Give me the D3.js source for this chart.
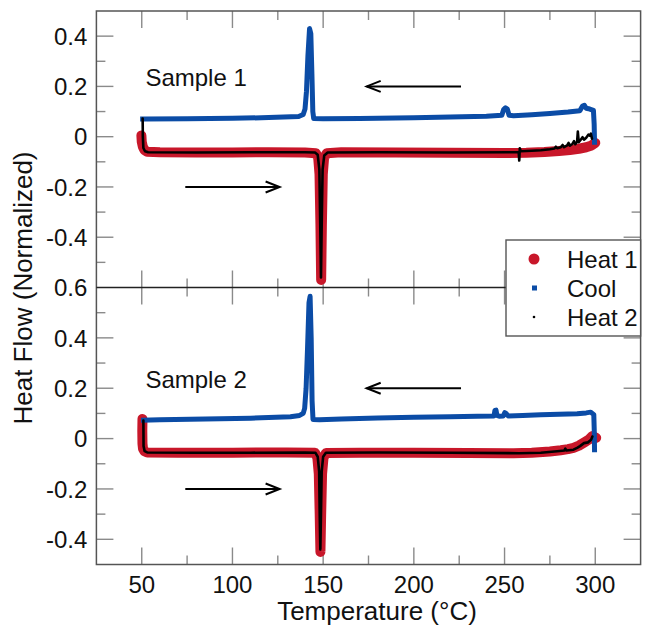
<!DOCTYPE html>
<meta charset="utf-8">
<head>
<script src="https://cdn.jsdelivr.net/npm/d3@7"></script>
<style>
    body { margin: 0; background: #fff; }
    text { font-family: "Liberation Sans", Arial, sans-serif; fill: #111; }
</style>
<title>DSC</title>
</head>
<body>
<script>

// ---- data (temperature in degC, normalized heat flow) ----
var s1Heat1 = [[49.8,0.005],[50.0,-0.02],[50.6,-0.04],[51.5,-0.053],[53,-0.06],[60,-0.062],[80,-0.063],[100,-0.063],
    [120,-0.062],[140,-0.063],[146,-0.066],[147.3,-0.085],[148.0,-0.15],[148.5,-0.35],[148.9,-0.57],[149.3,-0.35],
    [149.8,-0.15],[150.5,-0.085],[152,-0.066],[160,-0.062],[190,-0.063],[220,-0.064],[250,-0.065],[262,-0.064],
    [272,-0.061],[280,-0.057],[286,-0.053],[291,-0.048],[295,-0.042],[298,-0.035],[300,-0.025]];
var s1Cool = [[299.6,-0.022],[299.4,0.05],[299.0,0.105],[297,0.11],[295,0.113],[294,0.125],[293,0.122],[291.5,0.103],
    [285,0.098],[275,0.092],[265,0.087],[255,0.083],[252.5,0.085],[251.5,0.11],[250.5,0.115],[249.5,0.108],
    [248.5,0.085],[240,0.081],[220,0.078],[200,0.075],[170,0.072],[150,0.071],[144.8,0.072],[144.3,0.1],
    [143.8,0.25],[143.2,0.41],[142.5,0.43],[141.6,0.32],[140.8,0.18],[140.0,0.11],[139,0.088],[136.5,0.08],
    [120,0.076],[100,0.073],[75,0.071],[52,0.07],[50.5,0.07]];
var s1Heat2 = [[50.5,0.072],[50.6,0.0],[50.9,-0.045],[51.8,-0.058],[53.5,-0.062],[80,-0.063],[110,-0.062],[140,-0.062],
    [145.5,-0.063],[147,-0.072],[147.9,-0.13],[148.4,-0.35],[148.8,-0.56],[149.2,-0.35],[149.7,-0.13],[150.6,-0.075],
    [152.5,-0.063],[180,-0.062],[220,-0.063],[257.8,-0.062],[258.1,-0.095],[258.4,-0.046],[258.9,-0.058],[265,-0.056],
    [270,-0.054],[275,-0.05],[277.5,-0.047],[278.3,-0.04],[279,-0.046],[281,-0.042],[282,-0.033],[282.8,-0.042],
    [284.5,-0.035],[285.3,-0.025],[286,-0.036],[287.5,-0.028],[288.3,-0.018],[289,-0.03],[290,-0.02],[290.4,0.02],
    [290.9,-0.022],[292,-0.012],[293,-0.002],[293.8,-0.012],[295,-0.004],[296.2,0.008],[297,0.004],[297.6,0.012],
    [298.2,-0.008]];

var s2Heat1 = [[50.4,0.078],[50.3,0.03],[50.4,-0.02],[50.7,-0.04],[51.5,-0.05],[53,-0.055],[70,-0.056],[100,-0.056],
    [130,-0.055],[145.5,-0.056],[146.8,-0.075],[147.6,-0.14],[148.1,-0.3],[148.5,-0.45],[148.9,-0.3],[149.4,-0.14],
    [150.2,-0.075],[151.6,-0.057],[170,-0.056],[200,-0.056],[230,-0.057],[255,-0.058],[265,-0.056],[275,-0.051],
    [281,-0.046],[285,-0.042],[288,-0.037],[291,-0.028],[294,-0.015],[296.5,-0.004],[298.4,0.01],[300.5,0.003]];
var s2Cool = [[299.6,-0.044],[299.5,0.02],[299.2,0.095],[297.5,0.105],[295,0.102],[290,0.099],[280,0.097],[270,0.095],
    [260,0.092],[252,0.09],[250.8,0.1],[250.1,0.103],[249.3,0.09],[247,0.089],[245.8,0.092],[245.3,0.113],
    [244.7,0.112],[244.2,0.09],[235,0.089],[220,0.087],[200,0.085],[180,0.082],[160,0.078],[148,0.075],
    [144.4,0.076],[143.9,0.15],[143.4,0.4],[142.8,0.565],[142.2,0.54],[141.4,0.36],[140.6,0.2],[139.8,0.12],
    [139,0.1],[137,0.092],[132,0.087],[110,0.081],[85,0.078],[60,0.075],[51,0.073]];
var s2Heat2 = [[50.9,0.072],[51.0,-0.03],[51.6,-0.05],[53,-0.055],[80,-0.056],[110,-0.056],[140,-0.055],[145.7,-0.056],
    [147,-0.072],[147.8,-0.13],[148.1,-0.3],[148.45,-0.44],[148.8,-0.3],[149.2,-0.13],[150,-0.072],[151.5,-0.056],
    [180,-0.055],[220,-0.056],[258,-0.058],[270,-0.056],[279,-0.05],[283,-0.047],[283.5,-0.04],[284,-0.047],
    [288,-0.044],[290,-0.037],[291.6,-0.03],[293.8,-0.018],[296,-0.015],[297.7,-0.005],[298.4,0.008]];

var xMajor = [50, 100, 150, 200, 250, 300];
var xMinor = [75, 125, 175, 225, 275];
var yMajor = [-0.4, -0.2, 0, 0.2, 0.4];
var yLabels = ["-0.4", "-0.2", "0", "0.2", "0.4"];
var y1Minor = [-0.5, -0.3, -0.1, 0.1, 0.3];
var y2Minor = [-0.3, -0.1, 0.1, 0.3, 0.5];
var sampleNames = ["Sample 1", "Sample 2"];
var legendNames = ["Heat 1", "Cool", "Heat 2"];
// arrows: [from T, to T, heat flow]
var arrows = [[226, 174, 0.2], [74, 126, -0.2]];

// ---- layout ----
var width = 662, height = 627;
var plotL = 96.4, plotR = 640.6, plotT = 11, plotM = 287.5, plotB = 564.5;
var red = "#c8172a", blue = "#0b4ca6";

var svg = d3.select("body").append("svg")
    .attr("width", width)
    .attr("height", height);

var x = d3.scaleLinear().domain([25, 325]).range([plotL, plotR]);
var y1 = d3.scaleLinear().domain([-0.6, 0.5]).range([plotM, plotT]);
var y2 = d3.scaleLinear().domain([-0.5, 0.6]).range([plotB, plotM]);

var panels = [
    {y: y1, minor: y1Minor, heat1: s1Heat1, cool: s1Cool, heat2: s1Heat2, name: sampleNames[0]},
    {y: y2, minor: y2Minor, heat1: s2Heat1, cool: s2Cool, heat2: s2Heat2, name: sampleNames[1]}
];

var tickColor = "#8a8a8a";

panels.forEach(function (p) {
    var g = svg.append("g");
    var r = p.y.range(); // [bottom, top]

    // x ticks, top and bottom of each panel, pointing in
    [[xMajor, 17], [xMinor, 9]].forEach(function (set) {
        set[0].forEach(function (t) {
            g.append("line").attr("x1", x(t)).attr("x2", x(t))
                .attr("y1", r[1]).attr("y2", r[1] + set[1])
                .attr("stroke", tickColor).attr("stroke-width", 1.4);
            g.append("line").attr("x1", x(t)).attr("x2", x(t))
                .attr("y1", r[0]).attr("y2", r[0] - set[1])
                .attr("stroke", tickColor).attr("stroke-width", 1.4);
        });
    });
    // y ticks, both sides
    [[yMajor, 17], [p.minor, 9]].forEach(function (set) {
        set[0].forEach(function (v) {
            g.append("line").attr("x1", plotL).attr("x2", plotL + set[1])
                .attr("y1", p.y(v)).attr("y2", p.y(v))
                .attr("stroke", tickColor).attr("stroke-width", 1.4);
            g.append("line").attr("x1", plotR).attr("x2", plotR - set[1])
                .attr("y1", p.y(v)).attr("y2", p.y(v))
                .attr("stroke", tickColor).attr("stroke-width", 1.4);
        });
    });

    // y labels
    g.selectAll(".ylab").data(yMajor).enter().append("text")
        .attr("x", plotL - 9)
        .attr("y", function (d) { return p.y(d); })
        .attr("dy", "0.36em")
        .attr("text-anchor", "end")
        .attr("font-size", "24px")
        .text(function (d, i) { return yLabels[i]; });

    var line = d3.line().x(function (d) { return x(d[0]); }).y(function (d) { return p.y(d[1]); });

    g.append("path").attr("d", line(p.heat1))
        .attr("fill", "none").attr("stroke", red).attr("stroke-width", 10)
        .attr("stroke-linejoin", "round").attr("stroke-linecap", "round");
    g.append("path").attr("d", line(p.cool))
        .attr("fill", "none").attr("stroke", blue).attr("stroke-width", 5)
        .attr("stroke-linejoin", "round").attr("stroke-linecap", "square");
    g.append("path").attr("d", line(p.heat2))
        .attr("fill", "none").attr("stroke", "#000").attr("stroke-width", 2.6)
        .attr("stroke-linejoin", "round").attr("stroke-linecap", "round");

    g.append("text")
        .attr("x", x(52)).attr("y", p.y(0.2))
        .attr("font-size", "24px")
        .text(p.name);

    arrows.forEach(function (a) {
        var x0 = x(a[0]), x1 = x(a[1]), yy = p.y(a[2]);
        var dir = x1 > x0 ? 1 : -1;
        g.append("line").attr("x1", x0).attr("x2", x1).attr("y1", yy).attr("y2", yy)
            .attr("stroke", "#000").attr("stroke-width", 2);
        g.append("path")
            .attr("d", "M" + (x1 - dir * 14) + "," + (yy - 5.5) + "L" + x1 + "," + yy + "L" + (x1 - dir * 14) + "," + (yy + 5.5))
            .attr("fill", "none").attr("stroke", "#000").attr("stroke-width", 2);
    });
});

// frame
svg.append("rect").attr("x", plotL).attr("y", plotT)
    .attr("width", plotR - plotL).attr("height", plotB - plotT)
    .attr("fill", "none").attr("stroke", "#555").attr("stroke-width", 1.5);
svg.append("line").attr("x1", plotL).attr("x2", plotR).attr("y1", plotM).attr("y2", plotM)
    .attr("stroke", "#222").attr("stroke-width", 1.3);

// shared label at the panel joint
svg.append("text").attr("x", plotL - 9).attr("y", plotM).attr("dy", "0.36em")
    .attr("text-anchor", "end").attr("font-size", "24px").text("0.6");

// x labels
svg.selectAll(".xlab").data(xMajor).enter().append("text")
    .attr("x", function (d) { return x(d); })
    .attr("y", 593)
    .attr("text-anchor", "middle")
    .attr("font-size", "24px")
    .text(function (d) { return d; });

svg.append("text").attr("x", 377).attr("y", 620)
    .attr("text-anchor", "middle").attr("font-size", "26px")
    .text("Temperature (\u00b0C)");

svg.append("text")
    .attr("transform", "translate(32,288) rotate(-90)")
    .attr("text-anchor", "middle").attr("font-size", "26px")
    .text("Heat Flow (Normalized)");

// legend
var lg = svg.append("g");
lg.append("rect").attr("x", 506).attr("y", 240).attr("width", plotR - 506).attr("height", 96)
    .attr("fill", "#fff").attr("stroke", "#555").attr("stroke-width", 1.4);
legendNames.forEach(function (name, i) {
    var cy = 259 + i * 29;
    if (i === 0) lg.append("circle").attr("cx", 534).attr("cy", cy).attr("r", 5.5).attr("fill", red);
    if (i === 1) lg.append("rect").attr("x", 532).attr("y", cy - 2.5).attr("width", 5).attr("height", 5).attr("fill", blue);
    if (i === 2) lg.append("circle").attr("cx", 534).attr("cy", cy).attr("r", 1.3).attr("fill", "#000");
    lg.append("text").attr("x", 567).attr("y", cy).attr("dy", "0.36em")
        .attr("font-size", "24px").text(name);
});

</script>
</body>
</html>
